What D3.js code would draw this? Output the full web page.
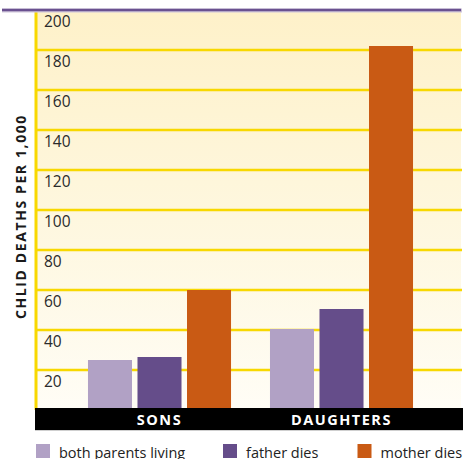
<!DOCTYPE html>
<html><head><meta charset="utf-8">
<script src="https://cdn.jsdelivr.net/npm/d3@7"></script>
<style>
html,body{margin:0;padding:0;background:#fff;}
svg{display:block;}
</style></head>
<body>
<svg id="chart" width="470" height="459"></svg>
<script>
const groups = ["SONS", "DAUGHTERS"];
const series = ["both parents living", "father dies", "mother dies"];
const sonsValues = [25, 26.5, 60];
const daughtersValues = [40.5, 50.5, 182];
const yTicks = [20, 40, 60, 80, 100, 120, 140, 160, 180, 200];
const seriesColors = ["#B1A1C5", "#654D8A", "#C95A14"];
const yTitle = "CHLID DEATHS PER 1,000";

const values = {SONS: sonsValues, DAUGHTERS: daughtersValues};
const svg = d3.select("#chart");

const plotLeft = 36, plotRight = 461;
const y = d3.scaleLinear().domain([0, 200]).range([410, 10]);
const x0 = d3.scaleBand().domain(groups).range([68.5, 432.5]).paddingInner(0.214).paddingOuter(0.107);
const x1 = d3.scaleBand().domain(series).range([0, x0.bandwidth()]).paddingInner(0.111).paddingOuter(0);
const color = d3.scaleOrdinal().domain(series).range(seriesColors);

// background gradient
const defs = svg.append("defs");
const grad = defs.append("linearGradient").attr("id", "bg").attr("x1", 0).attr("y1", 0).attr("x2", 0).attr("y2", 1);
grad.append("stop").attr("offset", "0%").attr("stop-color", "#FEF1C9");
grad.append("stop").attr("offset", "60%").attr("stop-color", "#FEF8E2");
grad.append("stop").attr("offset", "100%").attr("stop-color", "#FFFDF6");
svg.append("rect").attr("x", plotLeft).attr("y", y(200)).attr("width", plotRight - plotLeft).attr("height", y(0) - y(200)).attr("fill", "url(#bg)");

// grid lines
svg.append("g").selectAll("line").data(yTicks.filter(d => d < 200)).join("line")
  .attr("x1", plotLeft).attr("x2", plotRight + 1)
  .attr("y1", d => y(d)).attr("y2", d => y(d))
  .attr("stroke", "#F8D800").attr("stroke-width", 2.5);

// vertical axis line
svg.append("line").attr("x1", plotLeft).attr("x2", plotLeft).attr("y1", y(200)).attr("y2", y(0))
  .attr("stroke", "#F8D800").attr("stroke-width", 3);

// tick labels
svg.append("g").selectAll("text").data(yTicks).join("text")
  .attr("x", 44).attr("y", d => y(d) + 17)
  .attr("font-family", "'Open Sans', sans-serif").attr("font-size", 15.5)
  .attr("fill", "#2b2b2b").text(d => d);

// top purple line
svg.append("line").attr("x1", 2).attr("x2", 462).attr("y1", 10.5).attr("y2", 10.5)
  .attr("stroke", "#CFC6DA").attr("stroke-width", 4);
svg.append("line").attr("x1", 2).attr("x2", 461).attr("y1", 10).attr("y2", 10)
  .attr("stroke", "#6A5190").attr("stroke-width", 2.5);

// bars
const gBars = svg.append("g").selectAll("g").data(groups).join("g")
  .attr("transform", d => `translate(${x0(d)},0)`);
gBars.selectAll("rect").data(g => series.map((s, i) => ({s, v: values[g][i]}))).join("rect")
  .attr("x", d => x1(d.s)).attr("width", x1.bandwidth())
  .attr("y", d => y(d.v)).attr("height", d => y(0) - y(d.v))
  .attr("fill", d => color(d.s));

// black category band
svg.append("rect").attr("x", plotLeft - 1).attr("y", 408).attr("width", plotRight - plotLeft + 3).attr("height", 22)
  .attr("fill", "#000");
svg.append("line").attr("x1", plotLeft - 1).attr("x2", plotRight + 2).attr("y1", 430.5).attr("y2", 430.5)
  .attr("stroke", "#cfcfcf").attr("stroke-width", 1);
svg.append("g").selectAll("text").data(groups).join("text")
  .attr("x", d => x0(d) + x0.bandwidth() / 2).attr("y", 425)
  .attr("text-anchor", "middle").attr("font-family", "'Open Sans', sans-serif")
  .attr("font-weight", "bold").attr("font-size", 14.5).attr("letter-spacing", 1.5)
  .attr("fill", "#fff").text(d => d);

// y title
svg.append("text").attr("transform", "translate(25.5,216.5) rotate(-90)")
  .attr("text-anchor", "middle").attr("font-family", "'Open Sans', sans-serif")
  .attr("font-weight", "bold").attr("font-size", 14).attr("letter-spacing", 1.6)
  .attr("fill", "#1a1a1a").text(yTitle);

// legend
const legendX = [36, 223, 357.5];
const leg = svg.append("g").selectAll("g").data(series).join("g")
  .attr("transform", (d, i) => `translate(${legendX[i]},444)`);
leg.append("rect").attr("width", 14).attr("height", 14).attr("fill", d => color(d));
leg.append("text").attr("x", 23).attr("y", 14).attr("font-family", "'Open Sans', sans-serif")
  .attr("font-size", 14.5).attr("fill", "#222").text(d => d);
</script>
</body></html>
